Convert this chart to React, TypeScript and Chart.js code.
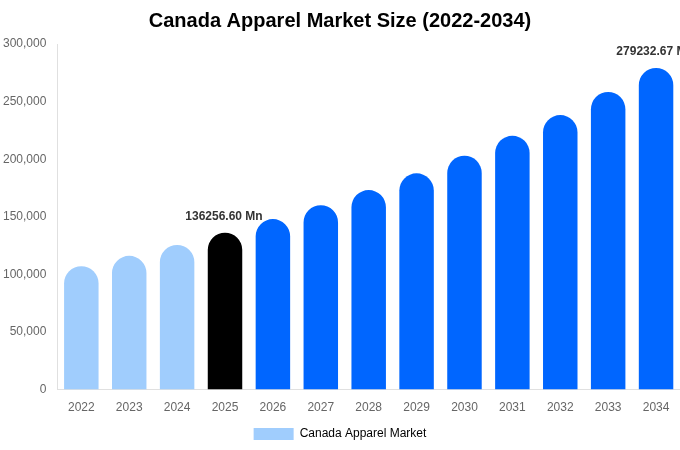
import { useEffect, useRef } from "react"
import { Chart, type ChartConfiguration, type Plugin, registerables } from "chart.js"

Chart.register(...registerables)

const years = ["2022", "2023", "2024", "2025", "2026", "2027", "2028", "2029", "2030", "2031", "2032", "2033", "2034"]
const marketSize = [107100, 116100, 125600, 136256.6, 148000, 160100, 173200, 187700, 203000, 220300, 238300, 258300, 279232.67]
const barColors = [
  "#a0cdfd", "#a0cdfd", "#a0cdfd",
  "#000000",
  "#0066ff", "#0066ff", "#0066ff", "#0066ff", "#0066ff", "#0066ff", "#0066ff", "#0066ff", "#0066ff",
]
const labelledYears = ["2025", "2034"]

const FONT = "'Liberation Sans', Arial, Helvetica, sans-serif"

const valueLabels: Plugin<"bar"> = {
  id: "valueLabels",
  afterDatasetsDraw(chart) {
    const ctx = chart.ctx
    const meta = chart.getDatasetMeta(0)
    ctx.save()
    ctx.font = `bold 12px ${FONT}`
    ctx.fillStyle = "#333333"
    ctx.textAlign = "center"
    ctx.textBaseline = "bottom"
    meta.data.forEach((bar, i) => {
      if (!labelledYears.includes(years[i])) return
      const v = marketSize[i]
      ctx.fillText(`${v.toFixed(2)} Mn`, bar.x - 1, bar.y - 10)
    })
    ctx.restore()
  },
}

export default function App() {
  const chartRef = useRef<HTMLCanvasElement>(null)
  const chartInstance = useRef<Chart | null>(null)

  useEffect(() => {
    document.body.style.margin = "0"
    if (!chartRef.current) return
    const ctx = chartRef.current.getContext("2d")
    if (!ctx) return

    if (chartInstance.current) {
      chartInstance.current.destroy()
    }

    const config: ChartConfiguration<"bar"> = {
      type: "bar",
      data: {
        labels: years,
        datasets: [
          {
            label: "Canada Apparel Market",
            data: marketSize,
            backgroundColor: barColors,
            borderRadius: 50,
          },
        ],
      },
      options: {
        responsive: true,
        maintainAspectRatio: false,
        animation: false,
        layout: { padding: 0 },
        scales: {
          y: {
            beginAtZero: true,
            max: 300000,
            ticks: {
              stepSize: 50000,
              color: "#666",
              font: { family: FONT, size: 12 },
            },
            grid: { display: false },
            border: { display: true, color: "#e0e0e0" },
          },
          x: {
            ticks: {
              color: "#666",
              font: { family: FONT, size: 12 },
            },
            grid: { display: false },
            border: { display: true, color: "#e0e0e0" },
          },
        },
        plugins: {
          title: {
            display: true,
            text: "Canada Apparel Market Size (2022-2034)",
            color: "#000",
            font: { family: FONT, size: 20, weight: "bold" },
            padding: { top: 9, bottom: 11 },
          },
          legend: {
            display: true,
            position: "bottom",
            labels: {
              color: "#666",
              font: { family: FONT, size: 12 },
              boxWidth: 40,
              boxHeight: 12,
              generateLabels: () => [
                {
                  text: "Canada Apparel Market",
                  fillStyle: barColors[0],
                  strokeStyle: barColors[0],
                  lineWidth: 0,
                  hidden: false,
                  datasetIndex: 0,
                },
              ],
            },
          },
          tooltip: { enabled: false },
        },
      },
      plugins: [valueLabels],
    }

    chartInstance.current = new Chart(ctx, config)

    return () => {
      if (chartInstance.current) {
        chartInstance.current.destroy()
      }
    }
  }, [])

  return (
    <div style={{ width: 680, height: 450, position: "relative" }}>
      <canvas ref={chartRef} />
    </div>
  )
}
